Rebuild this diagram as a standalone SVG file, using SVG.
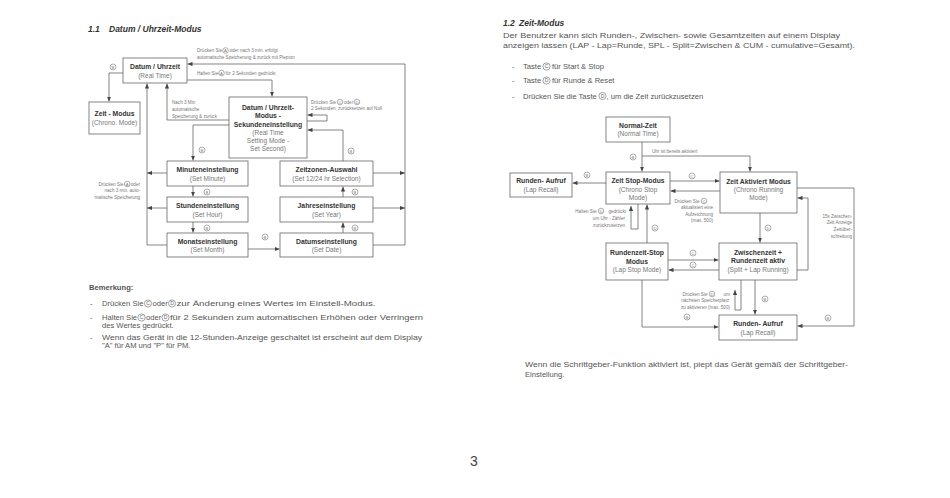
<svg xmlns="http://www.w3.org/2000/svg" width="950" height="498" viewBox="0 0 950 498">
<style>
text{font-family:"Liberation Sans",Arial,sans-serif}
.bx{fill:#fff;stroke:#666;stroke-width:0.8}
.ln{fill:none;stroke:#666;stroke-width:0.8}
.ar{marker-end:url(#ah)}
.b{font-weight:bold;font-size:6.8px;fill:#333;text-anchor:middle}
.n{font-size:6.5px;fill:#777;text-anchor:middle}
.t{font-size:4.6px;fill:#777}
.te{font-size:4.6px;fill:#777;text-anchor:end}
.c circle{fill:#fff;stroke:#777;stroke-width:0.6}
.c text{font-size:4.2px;fill:#777;text-anchor:middle}
.ci circle{fill:#fff;stroke:#666;stroke-width:0.6}
.ci text{font-size:5px;fill:#666;text-anchor:middle}
.p{font-size:7.6px;fill:#555}
.h{font-size:8.5px;font-weight:bold;font-style:italic;fill:#333}
</style>
<defs>
<marker id="ah" viewBox="0 0 6 5" refX="6" refY="2.5" markerWidth="5" markerHeight="4.2" orient="auto" markerUnits="userSpaceOnUse"><path d="M0,0L6,2.5L0,5z" fill="#444"/></marker>
</defs>
<rect width="950" height="498" fill="#fff"/>

<!-- Left headings and remarks -->
<g id="left-text">
<text class="h" x="88" y="32">1.1</text>
<text class="h" x="109" y="32">Datum / Uhrzeit-Modus</text>
<text class="p" x="89" y="290" font-weight="bold" fill="#333">Bemerkung:</text>
<text class="p" x="90" y="306">-</text>
<text class="p" x="102" y="306">Drücken Sie</text>
<g class="ci"><circle cx="148" cy="303.5" r="3.6"/><text x="148" y="305.3">C</text></g>
<text class="p" x="152.5" y="306">oder</text>
<g class="ci"><circle cx="172" cy="303.5" r="3.6"/><text x="172" y="305.3">D</text></g>
<text class="p" x="176.5" y="306" textLength="199" lengthAdjust="spacingAndGlyphs">zur Änderung eines Wertes im Einstell-Modus.</text>
<text class="p" x="90" y="320">-</text>
<text class="p" x="102" y="320">Halten Sie</text>
<g class="ci"><circle cx="141.5" cy="317.5" r="3.6"/><text x="141.5" y="319.3">C</text></g>
<text class="p" x="146" y="320">oder</text>
<g class="ci"><circle cx="165.5" cy="317.5" r="3.6"/><text x="165.5" y="319.3">D</text></g>
<text class="p" x="170" y="320" textLength="253" lengthAdjust="spacingAndGlyphs">für 2 Sekunden zum automatischen Erhöhen oder Verringern</text>
<text class="p" x="102" y="327.5">des Wertes gedrückt.</text>
<text class="p" x="90" y="340">-</text>
<text class="p" x="102" y="340" textLength="320" lengthAdjust="spacingAndGlyphs">Wenn das Gerät in die 12-Stunden-Anzeige geschaltet ist erscheint auf dem Display</text>
<text class="p" x="102" y="347.5">"A" für AM und "P" für PM.</text>
</g>

<!-- Right headings -->
<g id="right-text">
<text class="h" x="503" y="26">1.2</text>
<text class="h" x="519" y="26">Zeit-Modus</text>
<text class="p" x="503" y="37.5" textLength="337" lengthAdjust="spacingAndGlyphs">Der Benutzer kann sich Runden-, Zwischen- sowie Gesamtzeiten auf einem Display</text>
<text class="p" x="503" y="48" textLength="352" lengthAdjust="spacingAndGlyphs">anzeigen lassen (LAP - Lap=Runde, SPL - Split=Zwischen &amp; CUM - cumulative=Gesamt).</text>
<text class="p" x="512" y="69">-</text>
<text class="p" x="523" y="69">Taste</text>
<g class="ci"><circle cx="546.5" cy="66.5" r="3.6"/><text x="546.5" y="68.3">C</text></g>
<text class="p" x="552" y="69">für Start &amp; Stop</text>
<text class="p" x="512" y="83">-</text>
<text class="p" x="523" y="83">Taste</text>
<g class="ci"><circle cx="546.5" cy="80.5" r="3.6"/><text x="546.5" y="82.3">D</text></g>
<text class="p" x="552" y="83">für Runde &amp; Reset</text>
<text class="p" x="512" y="98.5">-</text>
<text class="p" x="523" y="98.5">Drücken Sie die Taste</text>
<g class="ci"><circle cx="602.5" cy="96" r="3.6"/><text x="602.5" y="97.8">D</text></g>
<text class="p" x="606.5" y="98.5">, um die Zeit zurückzusetzen</text>
<text class="p" x="525" y="367" textLength="323" lengthAdjust="spacingAndGlyphs">Wenn die Schrittgeber-Funktion aktiviert ist, piept das Gerät gemäß der Schrittgeber-</text>
<text class="p" x="525" y="377">Einstellung.</text>
<text x="474" y="466" font-size="14" fill="#444" text-anchor="middle">3</text>
</g>

<!-- Left diagram nodes -->
<g id="n-datum"><rect class="bx" x="123" y="58" width="64" height="25"/><text class="b" x="155" y="68.5">Datum / Uhrzeit</text><text class="n" x="155" y="77.5">(Real Time)</text></g>
<g id="n-zeitmodus"><rect class="bx" x="89" y="102" width="51" height="32"/><text class="b" x="114.5" y="115.5">Zeit - Modus</text><text class="n" x="114.5" y="124.5">(Chrono. Mode)</text></g>
<g id="n-sekunden"><rect class="bx" x="229" y="97" width="78" height="61"/>
<text class="b" x="268" y="109.5">Datum / Uhrzeit-</text><text class="b" x="268" y="118">Modus -</text><text class="b" x="268" y="126.5">Sekundeneinstellung</text>
<text class="n" x="268" y="135">(Real Time</text><text class="n" x="268" y="143">Setting Mode -</text><text class="n" x="268" y="151">Set Second)</text></g>
<g id="n-minuten"><rect class="bx" x="167" y="161" width="81" height="25"/><text class="b" x="207.5" y="171.5">Minuteneinstellung</text><text class="n" x="207.5" y="180.5">(Set Minute)</text></g>
<g id="n-stunden"><rect class="bx" x="167" y="197" width="81" height="25"/><text class="b" x="207.5" y="207.5">Stundeneinstellung</text><text class="n" x="207.5" y="216.5">(Set Hour)</text></g>
<g id="n-monat"><rect class="bx" x="167" y="233" width="81" height="24"/><text class="b" x="207.5" y="243.5">Monatseinstellung</text><text class="n" x="207.5" y="252">(Set Month)</text></g>
<g id="n-zeitzone"><rect class="bx" x="280" y="161" width="93" height="25"/><text class="b" x="326.5" y="171.5">Zeitzonen-Auswahl</text><text class="n" x="326.5" y="180.5">(Set 12/24 hr  Selection)</text></g>
<g id="n-jahr"><rect class="bx" x="280" y="197" width="93" height="25"/><text class="b" x="326.5" y="207.5">Jahreseinstellung</text><text class="n" x="326.5" y="216.5">(Set Year)</text></g>
<g id="n-datumeinst"><rect class="bx" x="280" y="233" width="93" height="24"/><text class="b" x="326.5" y="243.5">Datumseinstellung</text><text class="n" x="326.5" y="252">(Set Date)</text></g>

<!-- Right diagram nodes -->
<g id="n-normal"><rect class="bx" x="606" y="117" width="64" height="25"/><text class="b" x="638" y="127.5">Normal-Zeit</text><text class="n" x="638" y="136">(Normal Time)</text></g>
<g id="n-stop"><rect class="bx" x="606" y="172" width="64" height="32"/><text class="b" x="638" y="183">Zeit Stop-Modus</text><text class="n" x="638" y="191.5">(Chrono  Stop</text><text class="n" x="638" y="199.5">Mode)</text></g>
<g id="n-recall1"><rect class="bx" x="510" y="173" width="62" height="24"/><text class="b" x="541" y="183">Runden- Aufruf</text><text class="n" x="541" y="191.5">(Lap Recall)</text></g>
<g id="n-running"><rect class="bx" x="720" y="172" width="77" height="41"/><text class="b" x="758.5" y="184">Zeit Aktiviert Modus</text><text class="n" x="758.5" y="192">(Chrono  Running</text><text class="n" x="758.5" y="200">Mode)</text></g>
<g id="n-lapstop"><rect class="bx" x="606" y="243" width="62" height="37"/><text class="b" x="637" y="255">Rundenzeit-Stop</text><text class="b" x="637" y="263.5">Modus</text><text class="n" x="637" y="272">(Lap Stop Mode)</text></g>
<g id="n-split"><rect class="bx" x="719" y="243" width="78" height="37"/><text class="b" x="758" y="254.5">Zwischenzeit +</text><text class="b" x="758" y="263">Rundenzeit aktiv</text><text class="n" x="758" y="271.5">(Split + Lap Running)</text></g>
<g id="n-recall2"><rect class="bx" x="719" y="315" width="78" height="25"/><text class="b" x="758" y="326">Runden- Aufruf</text><text class="n" x="758" y="335">(Lap Recall)</text></g>

<!-- Connectors -->
<g id="connectors">
<polyline class="ln ar" points="373,245 405,245 405,64 187.5,64"/>
<line class="ln ar" x1="373" y1="173" x2="405" y2="173"/>
<line class="ln ar" x1="373" y1="208" x2="405" y2="208"/>
<polyline class="ln ar" points="167,245 147,245 147,83.5"/>
<line class="ln ar" x1="167" y1="173" x2="147" y2="173"/>
<line class="ln ar" x1="167" y1="208" x2="147" y2="208"/>
<polyline class="ln ar" points="123,73 109,73 109,101.5"/>
<polyline class="ln ar" points="187,80 272,80 272,96.5"/>
<polyline class="ln ar" points="229,120 167,120 167,83.5"/>
<polyline class="ln ar" points="307,121 327,121 327,115 307.5,115"/>
<polyline class="ln ar" points="343,161 343,130 307.5,130"/>
<polyline class="ln ar" points="229,125 193,125 193,160.5"/>
<line class="ln ar" x1="193" y1="186" x2="193" y2="196.5"/>
<line class="ln ar" x1="193" y1="222" x2="193" y2="232.5"/>
<line class="ln ar" x1="248" y1="249" x2="279.5" y2="249"/>
<line class="ln ar" x1="343" y1="233" x2="343" y2="222.5"/>
<line class="ln ar" x1="343" y1="197" x2="343" y2="186.5"/>
<line class="ln ar" x1="642" y1="142" x2="642" y2="171.5"/>
<polyline class="ln ar" points="642,156 750,156 750,171.5"/>
<line class="ln ar" x1="606" y1="183" x2="572.5" y2="183"/>
<line class="ln ar" x1="670" y1="181" x2="719.5" y2="181"/>
<line class="ln ar" x1="720" y1="191" x2="670.5" y2="191"/>
<polyline class="ln ar" points="638,204 638,229 631,229 631,206"/>
<line class="ln ar" x1="647" y1="243" x2="647" y2="204.5"/>
<line class="ln ar" x1="760" y1="213" x2="760" y2="242.5"/>
<line class="ln ar" x1="668" y1="260" x2="718.5" y2="260"/>
<line class="ln ar" x1="719" y1="270" x2="668.5" y2="270"/>
<polyline class="ln ar" points="797,270 808,270 808,198 797.5,198"/>
<polyline class="ln ar" points="797,188 854,188 854,326 797.5,326"/>
<line class="ln ar" x1="755" y1="280" x2="755" y2="314.5"/>
<polyline class="ln ar" points="741,280 741,310 735,310 735,290"/>
<polyline class="ln ar" points="642,280 642,327 718.5,327"/>
</g>

<!-- Connector labels -->
<g id="labels">
<text class="t" x="197" y="52">Drücken Sie</text>
<g class="c"><circle cx="225.5" cy="50.5" r="2.8"/><text x="225.5" y="52">A</text></g>
<text class="t" x="229.5" y="52">oder nach 3 min. erfolgt</text>
<text class="t" x="197" y="58.5">automatische Speicherung &amp; zurück mit Piepton</text>
<text class="t" x="197" y="74.5">Halten Sie</text>
<g class="c"><circle cx="221.5" cy="73" r="2.8"/><text x="221.5" y="74.5">A</text></g>
<text class="t" x="225.5" y="74.5">für 2 Sekunden gedrückt</text>
<g class="c"><circle cx="113" cy="67" r="3"/><text x="113" y="68.5">B</text></g>
<text class="t" x="172" y="104">Nach 3 Min</text>
<text class="t" x="172" y="110.5">automatische</text>
<text class="t" x="172" y="117.5">Speicherung &amp; zurück</text>
<text class="t" x="311" y="103.5">Drücken Sie</text>
<g class="c"><circle cx="340" cy="102" r="2.8"/><text x="340" y="103.5">C</text></g>
<text class="t" x="344" y="103.5">oder</text>
<g class="c"><circle cx="357" cy="102" r="2.8"/><text x="357" y="103.5">D</text></g>
<text class="t" x="311" y="109.5">2 Sekunden, zurücksetzen auf Null</text>
<g class="c"><circle cx="202" cy="150" r="3"/><text x="202" y="151.5">B</text></g>
<g class="c"><circle cx="351" cy="151" r="3"/><text x="351" y="152.5">B</text></g>
<g class="c"><circle cx="207" cy="192" r="3"/><text x="207" y="193.5">B</text></g>
<g class="c"><circle cx="207" cy="228" r="3"/><text x="207" y="229.5">B</text></g>
<g class="c"><circle cx="265" cy="237" r="3"/><text x="265" y="238.5">B</text></g>
<g class="c"><circle cx="355" cy="228" r="3"/><text x="355" y="229.5">B</text></g>
<g class="c"><circle cx="355" cy="192" r="3"/><text x="355" y="193.5">B</text></g>
<text class="te" x="123.5" y="185.5">Drücken Sie</text>
<g class="c"><circle cx="127.2" cy="184" r="2.8"/><text x="127.2" y="185.5">A</text></g>
<text class="te" x="140" y="185.5">oder</text>
<text class="te" x="140" y="192">nach 3 min. auto-</text>
<text class="te" x="140" y="198.5">matische Speicherung</text>
<g class="c"><circle cx="633" cy="157" r="3"/><text x="633" y="158.5">B</text></g>
<text class="t" x="652" y="152.5">Uhr ist bereits aktiviert</text>
<g class="c"><circle cx="587" cy="175" r="3"/><text x="587" y="176.5">B</text></g>
<g class="c"><circle cx="692" cy="176" r="3"/><text x="692" y="177.5">C</text></g>
<text class="te" x="699.5" y="202.5">Drücken Sie</text>
<g class="c"><circle cx="704" cy="201" r="2.8"/><text x="704" y="202.5">C</text></g>
<text class="te" x="713" y="209">aktualisiert eine</text>
<text class="te" x="713" y="215.5">Aufzeichnung</text>
<text class="te" x="713" y="222">(max. 500)</text>
<text class="te" x="596.5" y="212.5">Halten Sie</text>
<g class="c"><circle cx="601" cy="211" r="2.8"/><text x="601" y="212.5">D</text></g>
<text class="te" x="626" y="212.5">gedrückt</text>
<text class="te" x="625" y="219.5">um Uhr - Zähler</text>
<text class="te" x="625" y="226.5">zurückzusetzen</text>
<g class="c"><circle cx="655" cy="228" r="3"/><text x="655" y="229.5">D</text></g>
<g class="c"><circle cx="768" cy="228" r="3"/><text x="768" y="229.5">D</text></g>
<g class="c"><circle cx="693" cy="253" r="3"/><text x="693" y="254.5">C</text></g>
<g class="c"><circle cx="693" cy="265" r="3"/><text x="693" y="266.5">C</text></g>
<text class="te" x="852" y="217.5">15s Zwischen-</text>
<text class="te" x="852" y="224">Zeit Anzeige</text>
<text class="te" x="852" y="230.5">Zeitüber-</text>
<text class="te" x="852" y="237.5">schreitung</text>
<g class="c"><circle cx="828" cy="318" r="3"/><text x="828" y="319.5">B</text></g>
<g class="c"><circle cx="765" cy="299" r="3"/><text x="765" y="300.5">B</text></g>
<text class="te" x="707.5" y="295.5">Drücken Sie</text>
<g class="c"><circle cx="712" cy="294" r="2.8"/><text x="712" y="295.5">D</text></g>
<text class="te" x="730" y="295.5">um</text>
<text class="te" x="729" y="302">nächsten Speicherplatz</text>
<text class="te" x="730" y="308.5">zu aktivieren (max. 500)</text>
<g class="c"><circle cx="687" cy="317" r="3"/><text x="687" y="318.5">B</text></g>
</g>
</svg>
